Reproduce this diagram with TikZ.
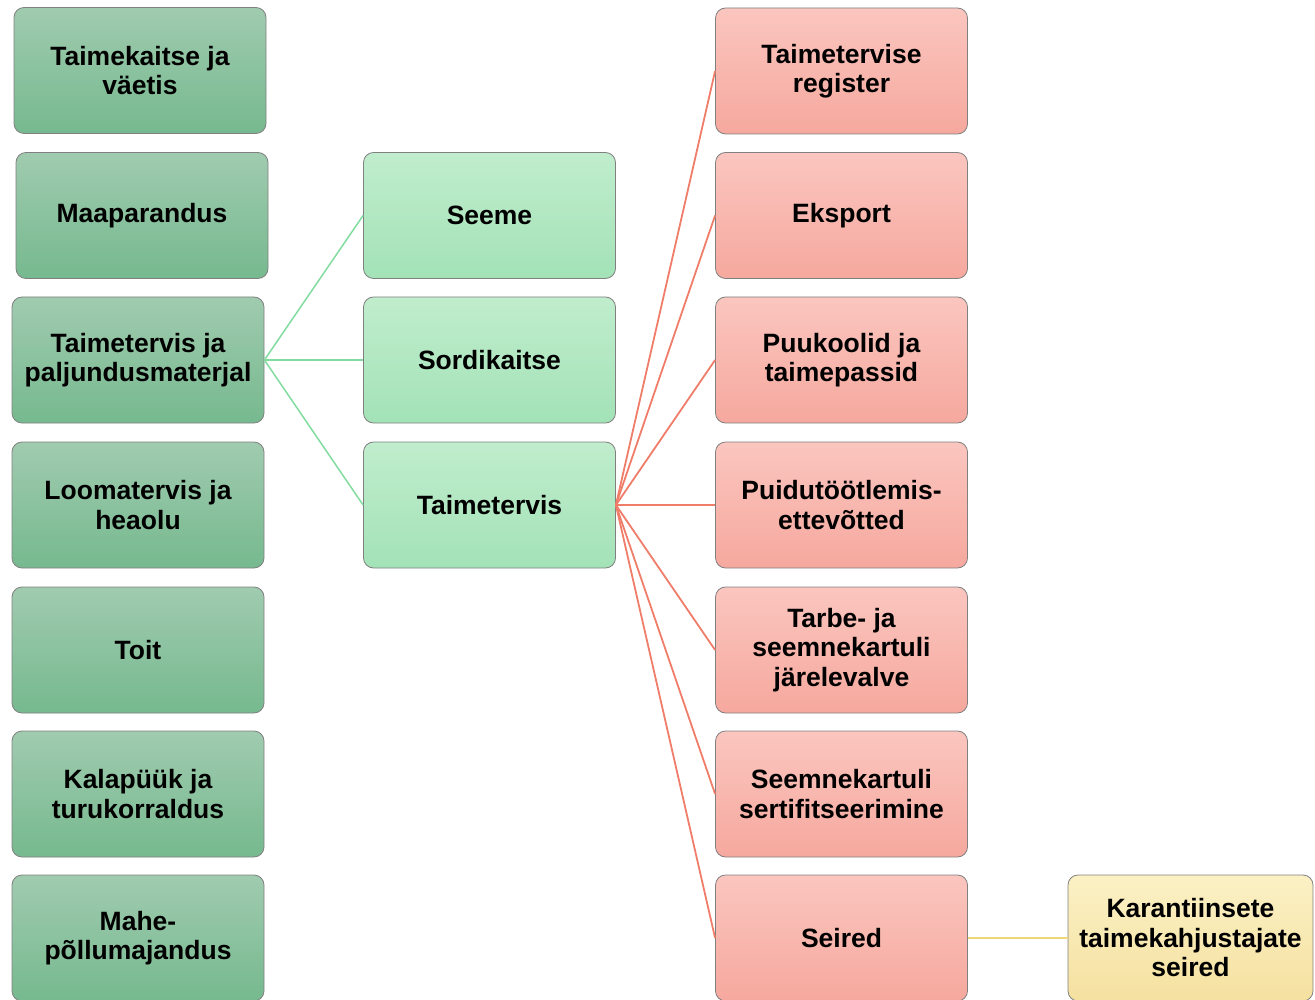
\documentclass[tikz,border=0pt]{standalone}
\usepackage{fontspec}
\setmainfont{Liberation Sans}
\definecolor{dgtop}{RGB}{160,203,175}
\definecolor{dgbot}{RGB}{118,185,143}
\definecolor{lgtop}{RGB}{192,237,205}
\definecolor{lgbot}{RGB}{163,226,183}
\definecolor{rdtop}{RGB}{250,198,191}
\definecolor{rdbot}{RGB}{246,168,158}
\definecolor{yltop}{RGB}{251,241,197}
\definecolor{ylbot}{RGB}{245,225,160}
\definecolor{bordergray}{RGB}{128,128,128}
\definecolor{greenline}{RGB}{130,220,160}
\definecolor{redline}{RGB}{240,125,105}
\definecolor{yellowline}{RGB}{238,215,120}
\tikzset{
  box/.style={rectangle, rounded corners=10pt, draw=bordergray, line width=0.8pt,
    minimum width=252pt, minimum height=126pt, inner sep=0pt, align=center,
    font=\fontsize{26.5}{29.5}\selectfont\bfseries},
  dgbox/.style={box, top color=dgtop, bottom color=dgbot},
  lgbox/.style={box, top color=lgtop, bottom color=lgbot},
  rdbox/.style={box, top color=rdtop, bottom color=rdbot},
  ylbox/.style={box, top color=yltop, bottom color=ylbot, minimum width=245pt},
  gline/.style={draw=greenline, line width=1.5pt},
  rline/.style={draw=redline, line width=1.8pt},
  yline/.style={draw=yellowline, line width=1.8pt}
}
\begin{document}
\begin{tikzpicture}[x=1pt,y=-1pt]
\useasboundingbox (0,0) rectangle (1315,1000);
\begin{scope}
\clip (0,0) rectangle (1315,1000);
% left column
\node[dgbox] (l1) at (140,70.5) {Taimekaitse ja\\väetis};
\node[dgbox] (l2) at (142,215.5) {Maaparandus};
\node[dgbox] (l3) at (138,360) {Taimetervis ja\\paljundusmaterjal};
\node[dgbox] (l4) at (138,505) {Loomatervis ja\\heaolu};
\node[dgbox] (l5) at (138,650) {Toit};
\node[dgbox] (l6) at (138,794) {Kalapüük ja\\turukorraldus};
\node[dgbox] (l7) at (138,938) {Mahe-\\põllumajandus};
% middle column
\node[lgbox] (m1) at (489.5,215.5) {Seeme};
\node[lgbox] (m2) at (489.5,360) {Sordikaitse};
\node[lgbox] (m3) at (489.5,505) {Taimetervis};
% right column
\node[rdbox] (r1) at (841.5,71) {Taimetervise\\register};
\node[rdbox] (r2) at (841.5,215.5) {Eksport};
\node[rdbox] (r3) at (841.5,360) {Puukoolid ja\\taimepassid};
\node[rdbox] (r4) at (841.5,505) {Puidutöötlemis-\\ettevõtted};
\node[rdbox] (r5) at (841.5,650) {Tarbe- ja\\seemnekartuli\\järelevalve};
\node[rdbox] (r6) at (841.5,794) {Seemnekartuli\\sertifitseerimine};
\node[rdbox] (r7) at (841.5,938) {Seired};
% far right
\node[ylbox] (y1) at (1190.5,938) {Karantiinsete\\taimekahjustajate\\seired};
% connectors
\foreach \m in {m1,m2,m3} \draw[gline] (l3.east) -- (\m.west);
\foreach \r in {r1,r2,r3,r4,r5,r6,r7} \draw[rline] (m3.east) -- (\r.west);
\draw[yline] (r7.east) -- (y1.west);
\end{scope}
\end{tikzpicture}
\end{document}
